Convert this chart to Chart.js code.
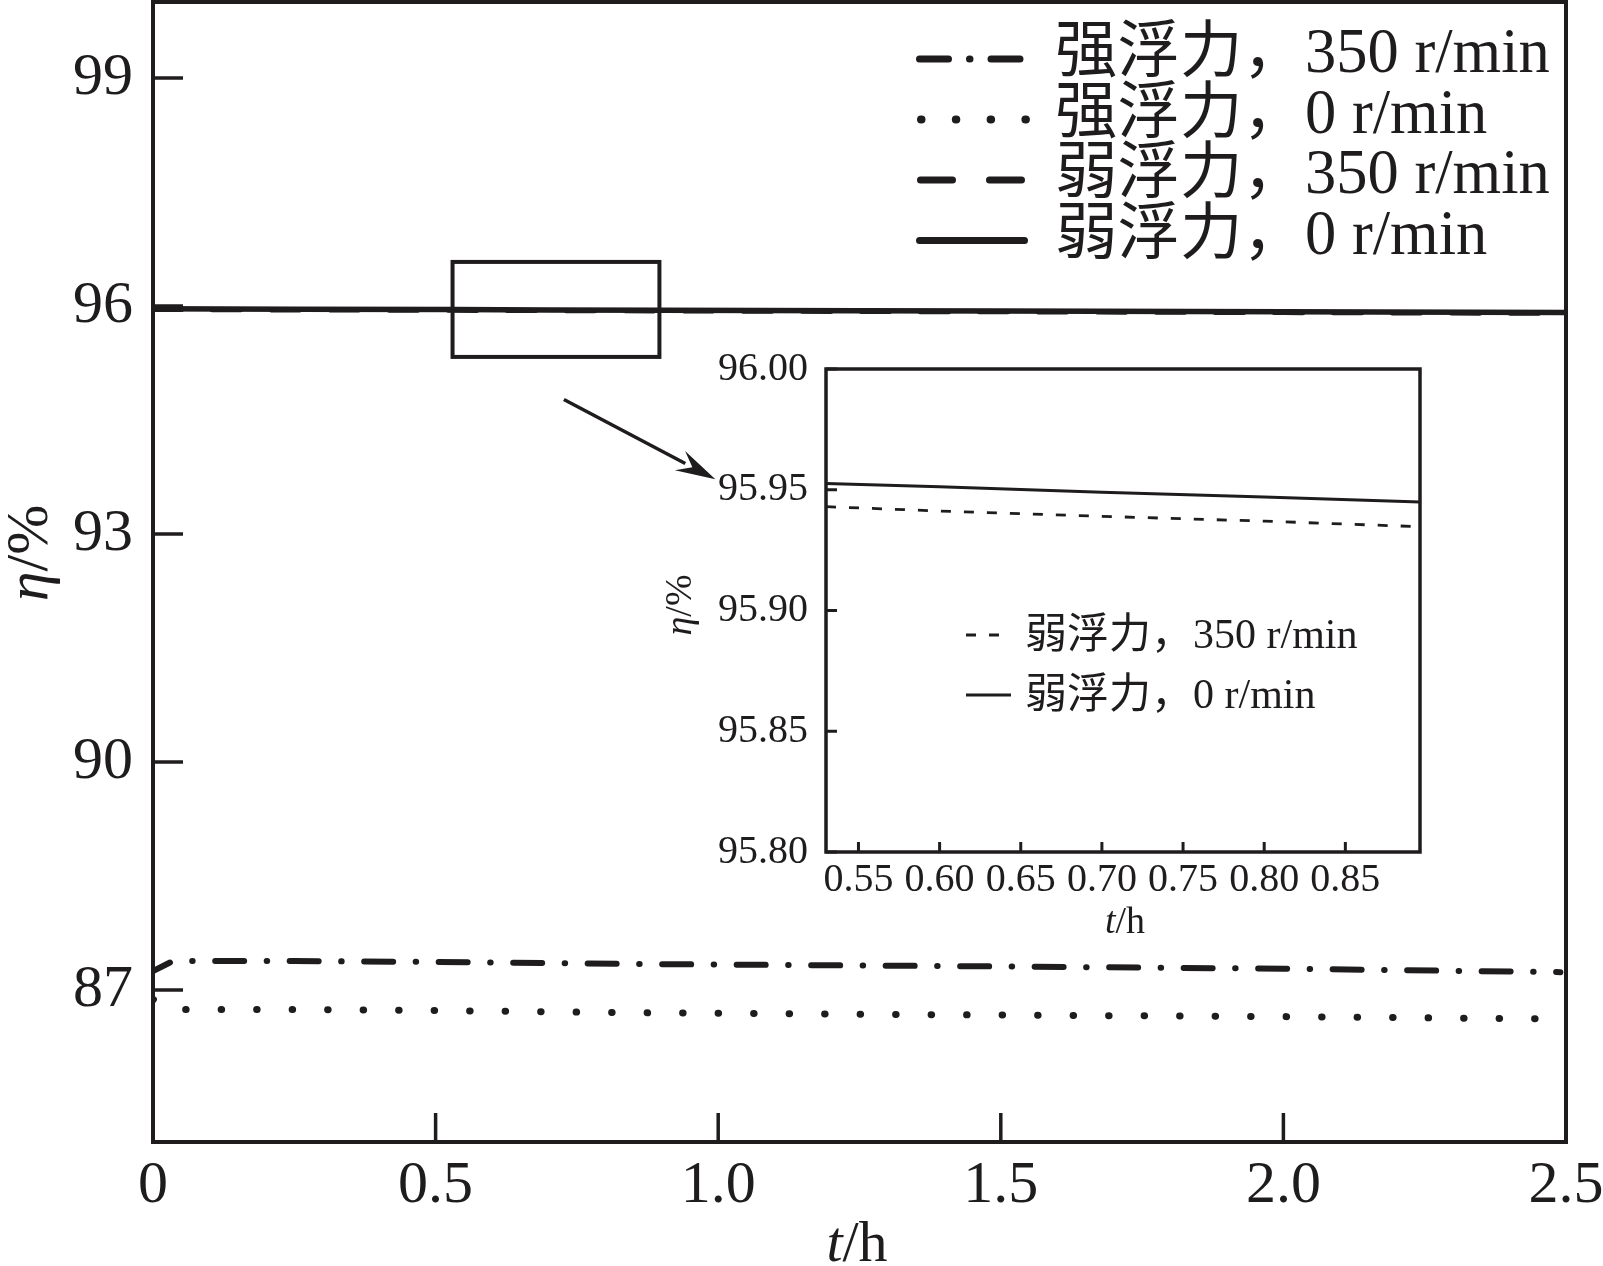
<!DOCTYPE html>
<html><head><meta charset="utf-8">
<script src="https://cdn.jsdelivr.net/npm/chart.js@4.4.1/dist/chart.umd.min.js"></script>
<style>
html,body{margin:0;padding:0;background:#fff;overflow:hidden;}
#wrap{position:relative;width:1603px;height:1266px;background:#fff;}
#wrap canvas{position:absolute;left:0;top:0;}
</style></head><body>
<div id="wrap"><canvas id="main" width="1603" height="1266"></canvas><canvas id="inset" width="1603" height="1266"></canvas></div>
<script>
// ---------- data ----------
const seriesLabels = ['强浮力，350 r/min', '强浮力，0 r/min', '弱浮力，350 r/min', '弱浮力，0 r/min'];

const strong350Time = [0, 0.035, 0.25, 0.5, 0.9, 1.5, 2.0, 2.49];
const strong350Eta  = [87.25, 87.38, 87.38, 87.37, 87.34, 87.31, 87.28, 87.235];

const strong0Time = [0, 0.03, 0.25, 0.5, 0.86, 1.5, 2.0, 2.46];
const strong0Eta  = [86.88, 86.745, 86.745, 86.73, 86.70, 86.67, 86.65, 86.62];

const weakTime   = [0, 0.25, 0.53, 0.7, 0.9, 1.25, 1.5, 2.0, 2.5];
const weak350Eta = [95.954, 95.948, 95.943, 95.939, 95.935, 95.928, 95.923, 95.913, 95.903];
const weak0Eta   = [95.964, 95.958, 95.9526, 95.949, 95.945, 95.938, 95.933, 95.923, 95.915];

const mainXTicks = [0, 0.5, 1.0, 1.5, 2.0, 2.5];
const mainXTickLabels = ['0', '0.5', '1.0', '1.5', '2.0', '2.5'];
const mainYTicks = [87, 90, 93, 96, 99];
const mainYTickLabels = ['87', '90', '93', '96', '99'];

const insetTime   = [0.53, 0.6, 0.7, 0.8, 0.896];
const insetWeak350 = [95.943, 95.9412, 95.939, 95.937, 95.9347];
const insetWeak0   = [95.9526, 95.9512, 95.949, 95.947, 95.9449];
const insetLabels = ['弱浮力，350 r/min', '弱浮力，0 r/min'];

const insetXTicks = [0.55, 0.60, 0.65, 0.70, 0.75, 0.80, 0.85];
const insetXTickLabels = ['0.55', '0.60', '0.65', '0.70', '0.75', '0.80', '0.85'];
const insetYTicks = [95.80, 95.85, 95.90, 95.95, 96.00];
const insetYTickLabels = ['95.80', '95.85', '95.90', '95.95', '96.00'];

const zoomBoxTime = [0.53, 0.896];
const zoomBoxEta  = [95.33, 96.58];
const arrowTime = [0.727, 0.995];
const arrowEta  = [94.77, 93.72];

// ---------- helpers ----------
const INK = '#1f1c1d';
const SERIF = "'Liberation Serif', 'Noto Sans CJK SC', serif";
const pts = (xs, ys) => xs.map((x, i) => ({x: x, y: ys[i]}));

function drawMixed(ctx, parts, cx, cy, size, rotate) {
  ctx.save();
  ctx.translate(cx, cy);
  if (rotate) ctx.rotate(-Math.PI / 2);
  let w = 0;
  parts.forEach(p => { ctx.font = (p[1] ? 'italic ' : '') + size + 'px ' + SERIF; w += ctx.measureText(p[0]).width; });
  let x = -w / 2;
  ctx.textBaseline = 'alphabetic'; ctx.textAlign = 'left'; ctx.fillStyle = INK;
  parts.forEach(p => { ctx.font = (p[1] ? 'italic ' : '') + size + 'px ' + SERIF; ctx.fillText(p[0], x, 0); x += ctx.measureText(p[0]).width; });
  ctx.restore();
}

const framePlugin = {
  id: 'frame',
  afterDatasetsDraw(chart, args, o) {
    const {ctx, chartArea: a, scales: {x, y}} = chart;
    ctx.save();
    ctx.strokeStyle = INK; ctx.setLineDash([]); ctx.lineCap = 'butt';
    ctx.lineWidth = o.tickWidth;
    o.xTicks.forEach(v => { const p = x.getPixelForValue(v); ctx.beginPath(); ctx.moveTo(p, a.bottom); ctx.lineTo(p, a.bottom - o.xLen); ctx.stroke(); });
    o.yTicks.forEach(v => { const p = y.getPixelForValue(v); ctx.beginPath(); ctx.moveTo(a.left, p); ctx.lineTo(a.left + o.yLen, p); ctx.stroke(); });
    ctx.lineWidth = o.borderWidth;
    ctx.strokeRect(a.left, a.top, a.right - a.left, a.bottom - a.top);
    drawMixed(ctx, [['t', true], ['/h', false]], o.xTitle.x, o.xTitle.y, o.xTitle.size, false);
    drawMixed(ctx, [['η', true], ['/%', false]], o.yTitle.x, o.yTitle.y, o.yTitle.size, true);
    if (o.box) {
      const x0 = x.getPixelForValue(zoomBoxTime[0]), x1 = x.getPixelForValue(zoomBoxTime[1]);
      const y0 = y.getPixelForValue(zoomBoxEta[1]), y1 = y.getPixelForValue(zoomBoxEta[0]);
      ctx.lineWidth = o.box.width; ctx.strokeRect(x0, y0, x1 - x0, y1 - y0);
      const ax0 = x.getPixelForValue(arrowTime[0]), ay0 = y.getPixelForValue(arrowEta[0]);
      const ax1 = x.getPixelForValue(arrowTime[1]), ay1 = y.getPixelForValue(arrowEta[1]);
      const ang = Math.atan2(ay1 - ay0, ax1 - ax0);
      const hl = o.box.headLen, hw = o.box.headHalf;
      const bx = ax1 - hl * Math.cos(ang), by = ay1 - hl * Math.sin(ang);
      ctx.lineWidth = o.box.arrowWidth;
      ctx.beginPath(); ctx.moveTo(ax0, ay0); ctx.lineTo(bx + 6 * Math.cos(ang), by + 6 * Math.sin(ang)); ctx.stroke();
      ctx.fillStyle = INK;
      ctx.beginPath();
      ctx.moveTo(ax1, ay1);
      ctx.lineTo(bx - hw * Math.sin(ang), by + hw * Math.cos(ang));
      ctx.lineTo(bx + 0.35 * hl * Math.cos(ang), by + 0.35 * hl * Math.sin(ang));
      ctx.lineTo(bx + hw * Math.sin(ang), by - hw * Math.cos(ang));
      ctx.closePath(); ctx.fill();
    }
    const L = o.legend;
    L.rows.forEach((r, i) => {
      const ds = chart.data.datasets[r.ds];
      const yb = L.baseline0 + i * L.gap;
      const ly = yb - L.lineUp;
      ctx.strokeStyle = ds.borderColor; ctx.lineWidth = r.width || L.lineWidth; ctx.lineCap = L.cap;
      ctx.setLineDash(r.dash);
      ctx.beginPath(); ctx.moveTo(r.x0, ly); ctx.lineTo(r.x1, ly); ctx.stroke();
      ctx.setLineDash([]);
      ctx.fillStyle = INK; ctx.font = L.size + 'px ' + SERIF; ctx.textBaseline = 'alphabetic'; ctx.textAlign = 'left';
      ctx.fillText(ds.label, L.textX, yb);
    });
    ctx.restore();
  }
};

function tickFont(size) { return {family: SERIF, size: size}; }

// ---------- main chart ----------
new Chart(document.getElementById('main'), {
  type: 'line',
  data: {
    datasets: [
      {label: seriesLabels[0], data: pts(strong350Time, strong350Eta), borderColor: INK, borderWidth: 6,
       borderDash: [29, 22.5, 0.5, 22.5], borderDashOffset: 10, borderCapStyle: 'round', pointRadius: 0, tension: 0, fill: false},
      {label: seriesLabels[1], data: pts(strong0Time, strong0Eta), borderColor: INK, borderWidth: 7,
       borderDash: [0.5, 35], borderCapStyle: 'round', pointRadius: 0, tension: 0, fill: false},
      {label: seriesLabels[2], data: pts(weakTime, weak350Eta), borderColor: INK, borderWidth: 5,
       borderDash: [29, 30], borderCapStyle: 'round', pointRadius: 0, tension: 0, fill: false},
      {label: seriesLabels[3], data: pts(weakTime, weak0Eta), borderColor: INK, borderWidth: 5.5,
       borderCapStyle: 'round', pointRadius: 0, tension: 0, fill: false}
    ]
  },
  options: {
    responsive: false, animation: false, devicePixelRatio: 1,
    layout: {padding: {top: 2, right: 37, left: 0, bottom: 0}},
    plugins: {
      legend: {display: false}, tooltip: {enabled: false},
      frame: {
        xTicks: mainXTicks, yTicks: mainYTicks, xLen: 29, yLen: 30, tickWidth: 3.5, borderWidth: 4,
        xTitle: {x: 857, y: 1261, size: 58}, yTitle: {x: 47, y: 553, size: 60},
        box: {width: 4, arrowWidth: 3.5, headLen: 40, headHalf: 11},
        legend: {
          baseline0: 72, gap: 60.5, lineUp: 13, lineWidth: 7, cap: 'round', size: 62.5, textX: 1055,
          rows: [
            {ds: 0, x0: 919.5, x1: 1024, dash: [29, 21, 0.5, 21]},
            {ds: 1, x0: 921, x1: 1028, dash: [0.5, 34.3], width: 8},
            {ds: 2, x0: 920.5, x1: 1021.5, dash: [32, 37]},
            {ds: 3, x0: 919.5, x1: 1024.5, dash: []}
          ]
        }
      }
    },
    scales: {
      x: {
        type: 'linear', min: 0, max: 2.5,
        afterBuildTicks: s => { s.ticks = mainXTicks.map(v => ({value: v})); },
        afterFit: s => { s.height = 124; s.paddingLeft = 0; s.paddingRight = 0; },
        ticks: {callback: v => mainXTickLabels[mainXTicks.indexOf(v)], font: tickFont(60), color: INK, padding: 8, maxRotation: 0, autoSkip: false},
        grid: {display: false, drawTicks: false}, border: {display: false}
      },
      y: {
        type: 'linear', min: 85, max: 100,
        afterBuildTicks: s => { s.ticks = mainYTicks.map(v => ({value: v})); },
        afterFit: s => { s.width = 153; s.paddingTop = 0; s.paddingBottom = 0; },
        ticks: {callback: v => mainYTickLabels[mainYTicks.indexOf(v)], font: tickFont(60), color: INK, padding: 20, autoSkip: false},
        grid: {display: false, drawTicks: false}, border: {display: false}
      }
    }
  },
  plugins: [framePlugin]
});

// ---------- inset chart ----------
new Chart(document.getElementById('inset'), {
  type: 'line',
  data: {
    datasets: [
      {label: insetLabels[0], data: pts(insetTime, insetWeak350), borderColor: INK, borderWidth: 2.8,
       borderDash: [10, 13], pointRadius: 0, tension: 0, fill: false},
      {label: insetLabels[1], data: pts(insetTime, insetWeak0), borderColor: INK, borderWidth: 3,
       pointRadius: 0, tension: 0, fill: false}
    ]
  },
  options: {
    responsive: false, animation: false, devicePixelRatio: 1,
    layout: {padding: {top: 369, right: 183, left: 0, bottom: 0}},
    plugins: {
      legend: {display: false}, tooltip: {enabled: false},
      frame: {
        xTicks: insetXTicks, yTicks: insetYTicks, xLen: 10, yLen: 11, tickWidth: 3, borderWidth: 3.5,
        xTitle: {x: 1125, y: 933, size: 38}, yTitle: {x: 691, y: 605, size: 38},
        legend: {
          baseline0: 648, gap: 60, lineUp: 13, lineWidth: 2.8, cap: 'butt', size: 42, textX: 1025,
          rows: [
            {ds: 0, x0: 966, x1: 999, dash: [10, 13]},
            {ds: 1, x0: 966, x1: 1011, dash: []}
          ]
        }
      }
    },
    scales: {
      x: {
        type: 'linear', min: 0.53, max: 0.896,
        afterBuildTicks: s => { s.ticks = insetXTicks.map(v => ({value: v})); },
        afterFit: s => { s.height = 414; s.paddingLeft = 0; s.paddingRight = 0; },
        ticks: {callback: v => insetXTickLabels[insetXTicks.indexOf(v)], font: tickFont(40), color: INK, padding: 4, maxRotation: 0, autoSkip: false},
        grid: {display: false, drawTicks: false}, border: {display: false}
      },
      y: {
        type: 'linear', min: 95.80, max: 96.00,
        afterBuildTicks: s => { s.ticks = insetYTicks.map(v => ({value: v})); },
        afterFit: s => { s.width = 826; s.paddingTop = 0; s.paddingBottom = 0; },
        ticks: {callback: v => insetYTickLabels[insetYTicks.indexOf(v)], font: tickFont(40), color: INK, padding: 18, autoSkip: false},
        grid: {display: false, drawTicks: false}, border: {display: false}
      }
    }
  },
  plugins: [framePlugin]
});
</script>
</body></html>
